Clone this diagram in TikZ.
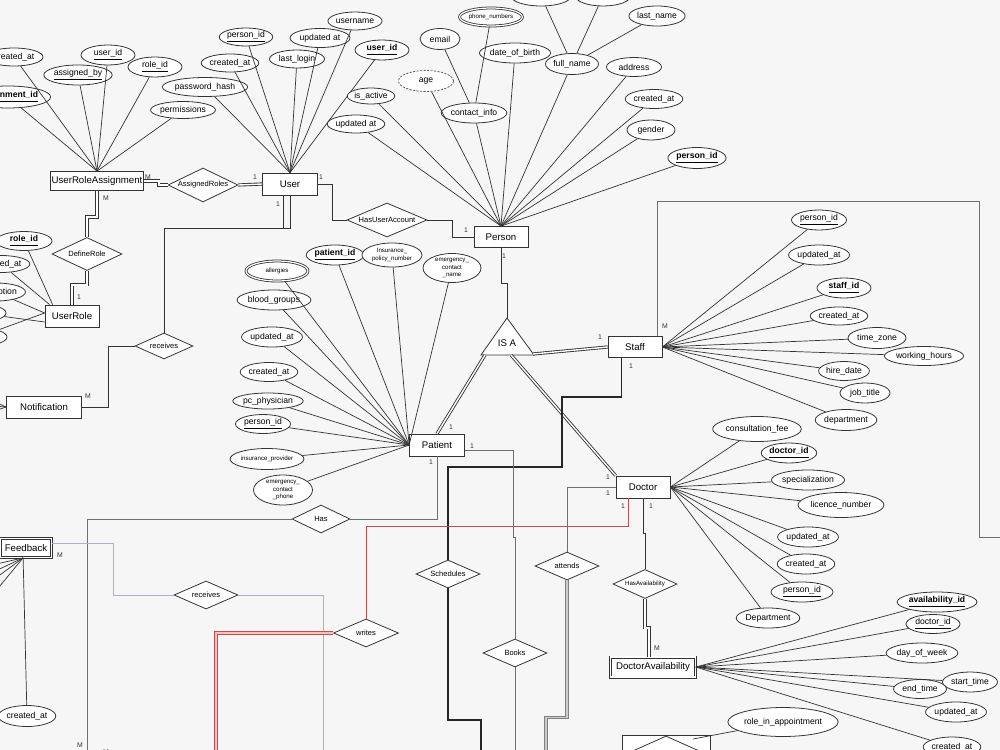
\documentclass[tikz,border=0pt]{standalone}
\usepackage{fontspec}
\setmainfont{Liberation Sans}
\usetikzlibrary{shapes.geometric,calc}

\definecolor{bgc}{HTML}{F6F6F6}
\definecolor{linec}{HTML}{333333}
\definecolor{relc}{HTML}{6E6E6E}
\definecolor{lavc}{HTML}{B4AACB}
\definecolor{redc}{HTML}{C0504D}

\newcommand\entfont{\fontsize{5.5}{6.6}\selectfont}
\newcommand\attrfont{\fontsize{4.9}{5.9}\selectfont}
\newcommand\relfont{\fontsize{4.3}{5.2}\selectfont}
\newcommand\smallattrfont{\fontsize{3.5}{4.2}\selectfont}
\newcommand\cardfont{\fontsize{3.9}{4.7}\selectfont}

\tikzset{
  ent/.style={rectangle, draw=linec, fill=white, line width=0.45pt, inner sep=0pt, minimum height=4.3mm, font=\entfont},
  weak/.style={ent, line width=0.45pt, double=white, double distance=0.8pt},
  attr/.style={ellipse, draw=linec, fill=white, line width=0.45pt, inner sep=0pt, minimum height=4mm, align=center, font=\attrfont},
  multi/.style={attr, double=white, double distance=0.7pt},
  derived/.style={attr, draw=black!65, dash pattern=on 1.2pt off 0.8pt},
  rel/.style={diamond, aspect=2.2, draw=linec, fill=white, line width=0.45pt, inner sep=0pt, font=\relfont},
  card/.style={inner sep=0pt, font=\cardfont, text=linec},
  conn/.style={draw=linec, line width=0.4pt},
  gconn/.style={draw=relc, line width=0.45pt},
  dconn/.style={draw=linec, line width=0.5pt, double=white, double distance=0.8pt},
}

\begin{document}
\begin{tikzpicture}[x=0.02cm, y=-0.02cm]
  \useasboundingbox (0,0) rectangle (1000,750);
  \clip (0,0) rectangle (1000,750);
  \fill[bgc] (0,0) rectangle (1000,750);

  % --- entities ---
  \node[ent, minimum width=18.6mm, minimum height=3.8mm] (ura) at (97,181) {UserRoleAssignment};
  \node[ent, minimum width=11mm, minimum height=4.4mm] (user) at (290,184) {User};
  \node[ent, minimum width=10.8mm, minimum height=4.2mm] (person) at (501,237) {Person};
  \node[ent, minimum width=10.8mm, minimum height=4.4mm] (ur) at (72,316) {UserRole};
  \node[ent, minimum width=15mm, minimum height=4.4mm] (notif) at (44,407) {Notification};
  \node[ent, minimum width=10.8mm, minimum height=4.2mm] (staff) at (635,347) {Staff};
  \node[ent, minimum width=11mm, minimum height=4.4mm] (patient) at (437,445) {Patient};
  \node[ent, minimum width=10.8mm, minimum height=4.4mm] (doctor) at (643,487) {Doctor};
  \node[weak, minimum width=10.2mm, minimum height=3.8mm] (fb) at (26,548) {Feedback};
  \node[weak, minimum width=17mm, minimum height=4mm] (dav) at (653,667) {DoctorAvailability};
  \node[ent, minimum width=17.6mm, minimum height=8mm] (sa) at (666,755) {};
  \node[rel, minimum width=17mm, minimum height=7.6mm] (sa-d) at (666,755) {};

  % --- IS A ---
  \draw[draw=linec, fill=white, line width=0.45pt] (507,318) -- (534,355) -- (481,355) -- cycle;
  \node[font=\entfont, inner sep=0pt] (isa) at (507,343) {IS A};
  \coordinate (isa-top) at (507,318);
  \coordinate (isa-sw) at (485,355);
  \coordinate (isa-s) at (511,355);
  \coordinate (isa-se) at (533,354);

  % --- relationships ---
  \node[rel, aspect=2.06, minimum width=14mm, minimum height=6.8mm] (ar) at (203,185) {AssignedRoles};
  \node[rel, aspect=2.35, minimum width=16mm, minimum height=6.8mm] (hua) at (387,220) {HasUserAccount};
  \node[rel, aspect=2.1, minimum width=14mm, minimum height=6.6mm] (dr) at (87,254) {DefineRole};
  \node[rel, minimum width=11.6mm, minimum height=5.2mm] (rcv1) at (164,346) {receives};
  \node[rel, aspect=2.07, minimum width=11.6mm, minimum height=5.6mm] (has) at (321,519) {Has};
  \node[rel, aspect=2.3, minimum width=12.8mm, minimum height=5.6mm] (rcv2) at (206,595) {receives};
  \node[rel, aspect=2.3, minimum width=13mm, minimum height=5.6mm] (writes) at (366,633) {writes};
  \node[rel, aspect=2.3, minimum width=12.8mm, minimum height=5.6mm] (sch) at (448,574) {Schedules};
  \node[rel, aspect=2.3, minimum width=12.8mm, minimum height=5.6mm] (attends) at (567,566) {attends};
  \node[rel, aspect=2.3, minimum width=12.8mm, minimum height=5.6mm] (books) at (515,653) {Books};
  \node[rel, minimum width=12.8mm, minimum height=5.8mm, font=\smallattrfont] (hav) at (645,584) {HasAvailability};

  % --- UserRoleAssignment attributes ---
  \node[attr, minimum width=11.6mm, minimum height=3.6mm] (ura-cat) at (14,57) {created\_at};
  \node[attr, minimum width=10.8mm] (ura-uid) at (108,55) {\underline{user\_id}};
  \node[attr, minimum width=10.8mm] (ura-rid) at (155,67) {\underline{role\_id}};
  \node[attr, minimum width=10.6mm] (ura-aby) at (78,75) {\underline{assigned\_by}};
  \node[attr, minimum width=14.8mm, minimum height=4.4mm] (ura-aid) at (8,97) {\textbf{\underline{assignment\_id}}};
  \node[attr, minimum width=11mm, minimum height=3.4mm] (ura-perm) at (183,110) {permissions};
  \foreach \a in {ura-cat,ura-uid,ura-rid,ura-aby,ura-aid,ura-perm}
    \draw[conn] (\a) -- (ura.north);

  % --- User attributes ---
  \node[attr, minimum width=10.6mm, minimum height=3.6mm] (u-pid) at (246,37) {\underline{person\_id}};
  \node[attr, minimum width=11mm, minimum height=3.6mm] (u-cat) at (230,63) {created\_at};
  \node[attr, minimum width=15.2mm, minimum height=3.8mm] (u-ph) at (205,87) {password\_hash};
  \node[attr, minimum width=11mm, minimum height=3.6mm] (u-ll) at (297,59) {last\_login};
  \node[attr, minimum width=12mm, minimum height=3.8mm] (u-ua) at (320,38) {updated at};
  \node[attr, minimum width=10.8mm, minimum height=3.6mm] (u-un) at (355,21) {username};
  \node[attr, minimum width=10.8mm] (u-uid) at (382,50) {\textbf{\underline{user\_id}}};
  \foreach \a in {u-pid,u-cat,u-ph,u-ll,u-ua,u-un,u-uid}
    \draw[conn] (\a) -- (user.north);

  % --- Person attributes ---
  \node[attr, minimum width=8.8mm, minimum height=3.2mm] (p-ia) at (371,96) {is\_active};
  \node[attr, minimum width=10.8mm, minimum height=3.6mm] (p-ua) at (356,124) {updated at};
  \node[derived, minimum width=11mm, minimum height=4.2mm] (p-age) at (426,81) {age};
  \node[attr, minimum width=8mm, minimum height=4.2mm] (p-email) at (440,39) {email};
  \node[multi, minimum width=11mm, minimum height=3.6mm, font=\smallattrfont] (p-phone) at (491,17) {phone\_numbers};
  \node[attr, minimum width=11mm] (p-ci) at (474,113) {contact\_info};
  \node[attr, minimum width=12mm] (p-dob) at (515,53) {date\_of\_birth};
  \node[attr, minimum width=10.6mm, minimum height=4.2mm] (p-fn) at (572,64) {full\_name};
  \node[attr, minimum width=12mm] (p-fn1) at (541,-4) {};
  \node[attr, minimum width=11mm] (p-fn2) at (603,-4) {};
  \node[attr, minimum width=11mm] (p-ln) at (657,16) {last\_name};
  \node[attr, minimum width=11mm, minimum height=3.8mm] (p-addr) at (634,67) {address};
  \node[attr, minimum width=10.8mm, minimum height=3.8mm] (p-cat) at (654,99) {created\_at};
  \node[attr, minimum width=9.6mm] (p-gen) at (651,130) {gender};
  \node[attr, minimum width=10.6mm, minimum height=4.2mm] (p-pid) at (697,158) {\textbf{\underline{person\_id}}};
  \foreach \a in {p-fn1,p-fn2,p-ln}
    \draw[conn] (\a) -- (p-fn);
  \foreach \a in {p-email,p-phone}
    \draw[conn] (\a) -- (p-ci);
  \foreach \a in {p-ia,p-ua,p-age,p-ci,p-dob,p-fn,p-addr,p-cat,p-gen,p-pid}
    \draw[conn] (\a) -- (person.north);

  % --- UserRole attributes ---
  \node[attr, minimum width=11.2mm, minimum height=3.8mm] (ur-rid) at (24,241) {\textbf{\underline{role\_id}}};
  \node[attr, minimum width=10.8mm, minimum height=3.4mm] (ur-cat) at (1,264) {created\_at};
  \node[attr, minimum width=11.6mm, minimum height=3.6mm] (ur-desc) at (-4,292) {description};
  \node[attr, minimum width=11.2mm, minimum height=3.6mm] (ur-x1) at (-22,313) {};
  \node[attr, minimum width=11.2mm, minimum height=3.6mm] (ur-x2) at (-21,337) {};
  \draw[conn] (ur-rid) -- ($(ur.north west)+(8,0)$);
  \draw[conn] (ur-cat) -- ($(ur.north west)+(5,0)$);
  \draw[conn] (ur-desc) -- ($(ur.west)+(0,-3)$);
  \draw[conn] (ur-x1) -- ($(ur.west)+(0,6)$);
  \draw[conn] (ur-x2) -- ($(ur.west)+(0,-3)$);

  % --- Staff attributes ---
  \node[attr, minimum width=11mm] (s-pid) at (819,220) {\underline{person\_id}};
  \node[attr, minimum width=11mm] (s-ua) at (819,255) {updated\_at};
  \node[attr, minimum width=10.8mm] (s-sid) at (844,288) {\textbf{\underline{staff\_id}}};
  \node[attr, minimum width=11mm, minimum height=3.6mm] (s-cat) at (839,316) {created\_at};
  \node[attr, minimum width=11.6mm, minimum height=4.2mm] (s-tz) at (877,338) {time\_zone};
  \node[attr, minimum width=14.4mm, minimum height=3.8mm] (s-wh) at (924,356) {working\_hours};
  \node[attr, minimum width=9.6mm, minimum height=3.8mm] (s-hd) at (844,371) {hire\_date};
  \node[attr, minimum width=10mm] (s-jt) at (865,393) {job\_title};
  \node[attr, minimum width=9.8mm, minimum height=4.2mm] (s-dep) at (846,420) {department};
  \foreach \a in {s-pid,s-ua,s-sid,s-cat,s-tz,s-wh,s-hd,s-jt,s-dep}
    \draw[conn] (\a) -- (staff.east);

  % --- Patient attributes ---
  \node[multi, minimum width=12.4mm, font=\smallattrfont] (pa-all) at (277,271) {allergies};
  \node[attr, minimum width=11.6mm] (pa-bg) at (274,300) {blood\_groups};
  \node[attr, minimum width=10.6mm] (pa-ua) at (272,337) {updated\_at};
  \node[attr, minimum width=10mm, minimum height=3.8mm] (pa-cat) at (269,372) {created\_at};
  \node[attr, minimum width=12mm, minimum height=3.2mm] (pa-pcp) at (268,401) {pc\_physician};
  \node[attr, minimum width=11mm, minimum height=3.8mm] (pa-pid) at (263,424) {\underline{person\_id}};
  \node[attr, minimum width=13.2mm, minimum height=4.2mm, font=\smallattrfont] (pa-ip) at (267,459) {insurance\_provider};
  \node[attr, minimum width=11.8mm, minimum height=6mm, font=\smallattrfont] (pa-ecp) at (283,490) {emergency\_\\contact\\\_phone};
  \node[attr, minimum width=10.8mm] (pa-ptid) at (335,255) {\textbf{\underline{patient\_id}}};
  \node[attr, minimum width=12mm, minimum height=4.8mm, font=\smallattrfont] (pa-ipn) at (392,255) {Insurance\_\\policy\_number};
  \node[attr, minimum width=11.6mm, minimum height=5.8mm, font=\smallattrfont] (pa-ecn) at (452,268) {emergency\_\\contact\\\_name};
  \foreach \a in {pa-all,pa-bg,pa-ua,pa-cat,pa-pcp,pa-pid,pa-ip,pa-ecp,pa-ptid,pa-ipn,pa-ecn}
    \draw[conn] (\a) -- (patient.west);

  % --- Doctor attributes ---
  \node[attr, minimum width=16.4mm, minimum height=5mm] (d-cf) at (757,429) {consultation\_fee};
  \node[attr, minimum width=11mm] (d-did) at (789,453) {\textbf{\underline{doctor\_id}}};
  \node[attr, minimum width=12.2mm] (d-spec) at (808,480) {specialization};
  \node[attr, minimum width=15.2mm, minimum height=5mm] (d-ln) at (841,505) {licence\_number};
  \node[attr, minimum width=11mm] (d-ua) at (808,537) {updated\_at};
  \node[attr, minimum width=11mm] (d-cat) at (806,564) {created\_at};
  \node[attr, minimum width=12.4mm] (d-pid) at (802,592) {\underline{person\_id}};
  \node[attr, minimum width=12.4mm] (d-dep) at (768,618) {Department};
  \foreach \a in {d-cf,d-did,d-spec,d-ln,d-ua,d-cat,d-pid,d-dep}
    \draw[conn] (\a) -- (doctor.east);

  % --- DoctorAvailability attributes ---
  \node[attr, minimum width=13.2mm] (dav-aid) at (937,602) {\textbf{\underline{availability\_id}}};
  \node[attr, minimum width=10.8mm, minimum height=3.8mm] (dav-did) at (933,624) {\underline{doctor\_id}};
  \node[attr, minimum width=12.8mm] (dav-dow) at (922,653) {day\_of\_week};
  \node[attr, minimum width=11mm] (dav-st) at (970,682) {start\_time};
  \node[attr, minimum width=10.6mm, minimum height=3.8mm] (dav-et) at (920,689) {end\_time};
  \node[attr, minimum width=10.8mm] (dav-ua) at (956,712) {updated\_at};
  \node[attr, minimum width=11mm] (dav-cat) at (952,747) {created\_at};
  \foreach \a in {dav-aid,dav-did,dav-dow,dav-st,dav-et,dav-ua,dav-cat}
    \draw[conn] (\a) -- (dav.east);

  % --- other attributes ---
  \node[attr, minimum width=10.8mm, minimum height=4.2mm] (fb-cat) at (27,716) {created\_at};
  \draw[conn] ($(fb.south west)+(23,0)$) -- (fb-cat);
  \foreach \y in {570,583,597,622}
    \draw[conn] ($(fb.south west)+(23,0)$) -- (-30,\y);
  \foreach \y in {395,405,416}
    \draw[conn] (notif.west) -- (-20,\y);
  \node[attr, minimum width=19.4mm, minimum height=5.8mm] (ria) at (783,722) {role\_in\_appointment};
  \coordinate (sa-in) at (693,739);
  \draw[conn] (ria) -- (sa-in);

  % --- relationship lines ---
  \coordinate (off-staff) at (1010,537);
  \coordinate (off-sch) at (481,760);
  \coordinate (off-books) at (515,760);
  \coordinate (off-has) at (87,760);
  \coordinate (off-rcv2) at (323,760);
  \coordinate (off-writes) at (216,760);
  \coordinate (off-att) at (546,760);

  \draw[dconn] (ura.east) -- ++(15,0) |- (ar.west);
  \draw[dconn] (ar.east) -- (user.west);
  \draw[dconn] (ura.south) -- (97,217) -| (dr.north);
  \draw[dconn] (dr.south) -- ++(0,14) -| (ur.north);
  \draw[conn] (user.east) -- (332,184) |- (hua.west);
  \draw[conn] (hua.east) -- (452,220) |- (person.west);
  \draw[conn] (user.south) |- ($(user.south)+(-7,33)$);
  \draw[conn] ($(user.south)+(-7,0)$) |- (rcv1.north |- 0,228) -- (rcv1.north);
  \draw[conn] (rcv1.west) -- (108,346) |- (notif.east);
  \draw[conn] (person.south) -- ++(0,35) -| (isa-top);
  \draw[dconn] (isa-se) -- (staff.west);
  \draw[dconn] (isa-sw) -- (patient.north);
  \draw[dconn] (isa-s) -- (doctor.north west);
  \draw[gconn] ($(staff.north east)+(-5,0)$) |- (979,201) |- (off-staff);
  \draw[line width=1pt, draw=black!85] ($(staff.south west)+(14,0)$) |- (562,397) |- (448,467) -- (sch.north);
  \draw[line width=1pt, draw=black!85] (sch.south) |- (481,720) -- (off-sch);
  \draw[gconn] ($(patient.east)+(0,5)$) -| (513,537) -| (books.north);
  \draw[gconn] (books.south) -- (off-books);
  \draw[gconn] (patient.south) |- (has.east);
  \draw[gconn] (has.west) -| (off-has);
  \draw[draw=lavc, line width=0.5pt] ($(fb.east)+(0,-5)$) -| (113,595) -- (rcv2.west);
  \draw[draw=lavc, line width=0.5pt] (rcv2.east) -| (off-rcv2);
  \draw[draw=redc, line width=0.4pt] ($(doctor.south west)+(13,0)$) -- ++(0,28) -| (writes.north);
  \draw[draw=redc, line width=0.45pt, double=red!25, double distance=1.2pt] (writes.west) -| (off-writes);
  \draw[gconn] (doctor.west) -| (attends.north);
  \draw[draw=black!50, line width=0.45pt, double=black!20, double distance=1pt] (attends.south) -- ++(0,137) -| (off-att);
  \draw[conn] (doctor.south) -- ++(0,35) -| (hav.north);
  \draw[dconn] (hav.south) -- ++(0,29) -| ($(dav.north)+(-4,0)$);

  % --- cardinalities ---
  \node[card] (c1) at (148,177) {M};
  \node[card] (c2) at (255,177) {1};
  \node[card] (c3) at (321,177) {1};
  \node[card] (c4) at (278,204) {1};
  \node[card] (c5) at (466,230) {1};
  \node[card] (c6) at (504,256) {1};
  \node[card] (c7) at (106,198) {M};
  \node[card] (c8) at (79,297) {1};
  \node[card] (c9) at (88,396) {M};
  \node[card] (c10) at (600,337) {1};
  \node[card] (c11) at (665,326) {M};
  \node[card] (c12) at (631,366) {1};
  \node[card] (c13) at (451,427) {1};
  \node[card] (c14) at (472,446) {1};
  \node[card] (c15) at (431,462) {1};
  \node[card] (c16) at (608,477) {1};
  \node[card] (c17) at (608,493) {1};
  \node[card] (c18) at (623,506) {1};
  \node[card] (c19) at (651,506) {1};
  \node[card] (c20) at (657,648) {M};
  \node[card] (c21) at (60,555) {M};
  \node[card] (c22) at (80,745) {M};
  \node[card] (c23) at (106,752) {M};
\end{tikzpicture}
\end{document}
